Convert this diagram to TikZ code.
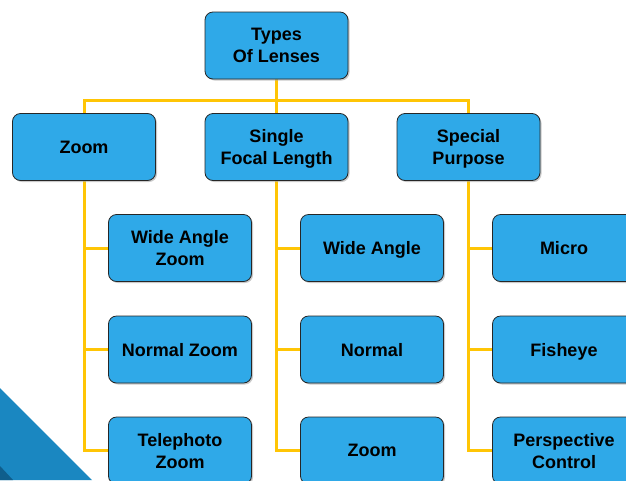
\documentclass[tikz,border=0pt]{standalone}
\usepackage{fontspec}
\setmainfont{Liberation Sans}
\usetikzlibrary{shadows,backgrounds}
\definecolor{boxblue}{HTML}{2FA9E8}
\definecolor{lineyellow}{HTML}{FFC505}
\definecolor{triblue}{HTML}{1A87C1}
\definecolor{tridark}{HTML}{0F5E8C}
\begin{document}
\begin{tikzpicture}[x=1pt,y=-1pt,
  box/.style={draw=black!85, line width=0.8pt, fill=boxblue, rounded corners=8pt,
    minimum width=143pt, minimum height=67pt, align=center,
    font=\fontsize{18}{22}\selectfont\bfseries, inner sep=2pt, text depth=0pt,
    drop shadow={shadow xshift=1.5pt, shadow yshift=-1.5pt, fill=black!35, opacity=0.6}},
  conn/.style={draw=lineyellow, line width=3pt}]
\useasboundingbox (0,0) rectangle (626,480);
\node[box] (top) at (276.5,45.5) {Types\\Of Lenses};
\node[box] (zoom) at (84,147) {Zoom};
\node[box] (single) at (276.5,147) {Single\\Focal Length};
\node[box] (special) at (468.5,147) {Special\\Purpose};
\node[box] (z1) at (180,248) {Wide Angle\\Zoom};
\node[box] (z2) at (180,349.5) {Normal Zoom};
\node[box] (z3) at (180,450.5) {Telephoto\\Zoom};
\node[box] (s1) at (372,248) {Wide Angle};
\node[box] (s2) at (372,349.5) {Normal};
\node[box] (s3) at (372,450.5) {Zoom};
\node[box] (p1) at (564,248) {Micro};
\node[box] (p2) at (564,349.5) {Fisheye};
\node[box] (p3) at (564,450.5) {Perspective\\Control};
\begin{scope}[on background layer]
\fill[triblue] (0,388) -- (92,480) -- (0,480) -- cycle;
\fill[tridark] (0,466) -- (13,480) -- (0,480) -- cycle;
\coordinate (bar) at (276.5,100);
\draw[conn] (top.south) -- (bar);
\draw[conn] (zoom.north) |- (bar) -| (special.north);
\draw[conn] (bar) -- (single.north);
\draw[conn] (zoom.south) |- (z3.west);
\draw[conn] (zoom.south |- z1.west) -- (z1.west);
\draw[conn] (zoom.south |- z2.west) -- (z2.west);
\draw[conn] (single.south) |- (s3.west);
\draw[conn] (single.south |- s1.west) -- (s1.west);
\draw[conn] (single.south |- s2.west) -- (s2.west);
\draw[conn] (special.south) |- (p3.west);
\draw[conn] (special.south |- p1.west) -- (p1.west);
\draw[conn] (special.south |- p2.west) -- (p2.west);
\end{scope}
\end{tikzpicture}
\end{document}
